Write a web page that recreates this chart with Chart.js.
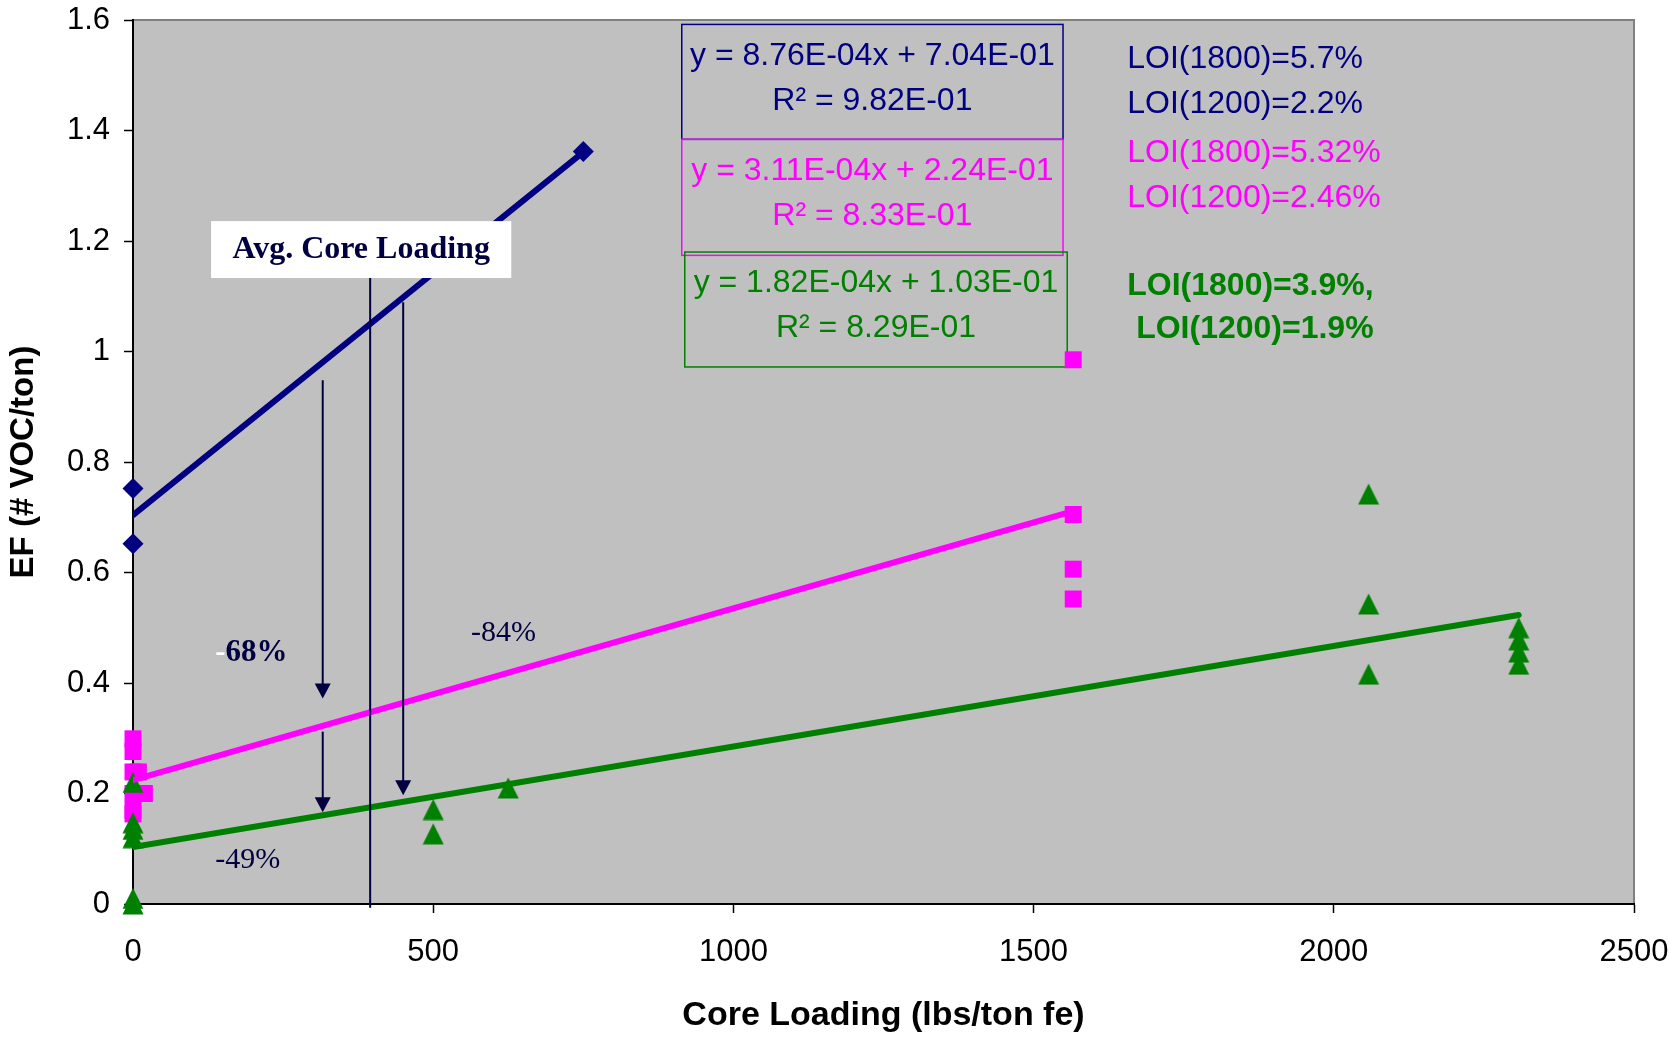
<!DOCTYPE html>
<html lang="en">
<head>
<meta charset="UTF-8">
<title>EF vs Core Loading</title>
<style>
    html, body { margin: 0; padding: 0; background: #fff; }
    .container { width: 1669px; height: 1037px; position: relative; }
</style>
</head>
<body>
<div class="container"><canvas id="efChart"></canvas></div>
<script src="https://cdn.jsdelivr.net/npm/chart.js"></script>
<script>
// values
const xTicks = [0, 500, 1000, 1500, 2000, 2500];
const yTicks = [0, 0.2, 0.4, 0.6, 0.8, 1, 1.2, 1.4, 1.6];

const blueX = [0, 0, 750];
const blueY = [0.752, 0.652, 1.362];

const pinkX = [0, 0, 0, 9, 0, 19, 0, 0, 1566, 1566, 1566, 1566];
const pinkY = [0.299, 0.276, 0.239, 0.239, 0.2, 0.2, 0.17, 0.163, 0.985, 0.705, 0.606, 0.552];

const greenX = [0, 0, 0, 0, 0, 0, 500, 500, 625, 2058, 2058, 2058, 2308, 2308, 2308, 2308];
const greenY = [0.22, 0.147, 0.135, 0.12, 0.01, 0.0, 0.171, 0.127, 0.21, 0.742, 0.543, 0.416, 0.5, 0.478, 0.456, 0.434];

// trendline end points
const blueTrendX = [0, 750],   blueTrendY = [0.704, 1.361];
const pinkTrendX = [0, 1566],  pinkTrendY = [0.224, 0.711];
const greenTrendX = [0, 2308], greenTrendY = [0.103, 0.523];

const eqText = [
    ['y = 8.76E-04x + 7.04E-01', 'R² = 9.82E-01'],
    ['y = 3.11E-04x + 2.24E-01', 'R² = 8.33E-01'],
    ['y = 1.82E-04x + 1.03E-01', 'R² = 8.29E-01']
];
const loiText = [
    ['LOI(1800)=5.7%', 'LOI(1200)=2.2%'],
    ['LOI(1800)=5.32%', 'LOI(1200)=2.46%'],
    ['LOI(1800)=3.9%,', ' LOI(1200)=1.9%']
];

const NAVY = '#000080', PINK = '#ff00ff', GREEN = '#008000', INK = '#000040';

const toPts = (xs, ys) => xs.map((x, i) => ({x: x, y: ys[i]}));

// excel-like triangle marker
const tri = document.createElement('canvas');
tri.width = 22; tri.height = 22;
(function() {
    const c = tri.getContext('2d');
    c.fillStyle = GREEN;
    c.beginPath();
    c.moveTo(11, 0.5); c.lineTo(21.5, 21.5); c.lineTo(0.5, 21.5);
    c.closePath(); c.fill();
})();

function arrow(ctx, x, y1, y2) {
    ctx.beginPath();
    ctx.moveTo(x, y1); ctx.lineTo(x, y2 - 12);
    ctx.stroke();
    ctx.beginPath();
    ctx.moveTo(x - 8, y2 - 15); ctx.lineTo(x + 8, y2 - 15); ctx.lineTo(x, y2);
    ctx.closePath(); ctx.fill();
}

const plotFrame = {
    id: 'plotFrame',
    beforeDraw(chart) {
        const {ctx, chartArea: a} = chart;
        ctx.save();
        ctx.fillStyle = '#c0c0c0';
        ctx.fillRect(a.left, a.top, a.right - a.left, a.bottom - a.top);
        ctx.strokeStyle = '#808080';
        ctx.lineWidth = 2;
        ctx.strokeRect(a.left, a.top, a.right - a.left, a.bottom - a.top);
        ctx.restore();
    },
    beforeDatasetsDraw(chart) {
        const ctx = chart.ctx;
        const px = v => chart.scales.x.getPixelForValue(v);
        const py = v => chart.scales.y.getPixelForValue(v);
        // equation boxes
        const boxes = [
            {x1: 914, x2: 1549, y1: 1.592, y2: 1.384, c: NAVY, ty: [1.534, 1.453]},
            {x1: 914, x2: 1549, y1: 1.384, y2: 1.174, c: PINK, ty: [1.326, 1.245]},
            {x1: 919, x2: 1556, y1: 1.180, y2: 0.972, c: GREEN, ty: [1.124, 1.042]}
        ];
        ctx.save();
        ctx.font = '32px "Liberation Sans", Arial, sans-serif';
        ctx.textAlign = 'center';
        ctx.textBaseline = 'middle';
        boxes.forEach((b, i) => {
            ctx.strokeStyle = b.c;
            ctx.lineWidth = 1.5;
            ctx.strokeRect(px(b.x1), py(b.y1), px(b.x2) - px(b.x1), py(b.y2) - py(b.y1));
            ctx.fillStyle = b.c;
            const cx = (px(b.x1) + px(b.x2)) / 2;
            ctx.fillText(eqText[i][0], cx, py(b.ty[0]));
            ctx.fillText(eqText[i][1], cx, py(b.ty[1]));
        });
        // LOI notes
        ctx.textAlign = 'left';
        const loiY = [[1.530, 1.447], [1.359, 1.277], [1.118, 1.041]];
        const loiC = [NAVY, PINK, GREEN];
        loiText.forEach((pair, i) => {
            ctx.fillStyle = loiC[i];
            ctx.font = (i === 2 ? 'bold ' : '') + '32px "Liberation Sans", Arial, sans-serif';
            ctx.fillText(pair[0], px(1656), py(loiY[i][0]));
            ctx.fillText(pair[1], px(1656), py(loiY[i][1]));
        });
        ctx.restore();
    },
    afterDatasetsDraw(chart) {
        const ctx = chart.ctx;
        const px = v => chart.scales.x.getPixelForValue(v);
        const py = v => chart.scales.y.getPixelForValue(v);
        ctx.save();
        ctx.strokeStyle = INK;
        ctx.fillStyle = INK;
        ctx.lineWidth = 2;
        // average core loading line
        ctx.beginPath();
        ctx.moveTo(px(395), py(1.133)); ctx.lineTo(px(395), py(-0.007));
        ctx.stroke();
        arrow(ctx, px(316), py(0.948), py(0.372));
        arrow(ctx, px(316), py(0.312), py(0.166));
        arrow(ctx, px(450), py(1.089), py(0.197));
        // label box
        ctx.fillStyle = '#fff';
        ctx.fillRect(px(130), py(1.236), px(630) - px(130), py(1.133) - py(1.236));
        ctx.fillStyle = INK;
        ctx.font = 'bold 32px "Liberation Serif", "Times New Roman", serif';
        ctx.textAlign = 'center';
        ctx.textBaseline = 'middle';
        ctx.fillText('Avg. Core Loading', px(380), py(1.185));
        // percent notes
        ctx.textAlign = 'left';
        ctx.font = 'bold 31px "Liberation Serif", "Times New Roman", serif';
        ctx.fillStyle = '#fff';
        ctx.fillText('-', px(137), py(0.455));
        const dash = ctx.measureText('-').width;
        ctx.fillStyle = INK;
        ctx.fillText('68%', px(137) + dash, py(0.455));
        ctx.font = '30px "Liberation Serif", "Times New Roman", serif';
        ctx.fillText('-84%', px(563), py(0.49));
        ctx.fillText('-49%', px(137), py(0.08));
        ctx.restore();
    },
    afterDraw(chart) {
        const {ctx, chartArea: a} = chart;
        ctx.save();
        ctx.fillStyle = '#000';
        ctx.textAlign = 'center';
        ctx.textBaseline = 'middle';
        ctx.font = 'bold 34px "Liberation Sans", Arial, sans-serif';
        ctx.fillText('Core Loading (lbs/ton fe)', (a.left + a.right) / 2, 1016);
        ctx.font = 'bold 33px "Liberation Sans", Arial, sans-serif';
        ctx.translate(24, (a.top + a.bottom) / 2);
        ctx.rotate(-Math.PI / 2);
        ctx.fillText('EF (# VOC/ton)', 0, 0);
        ctx.restore();
    }
};

const tickFont = {family: '"Liberation Sans", Arial, sans-serif', size: 31};

new Chart(document.getElementById('efChart'), {
    type: 'scatter',
    data: {
        datasets: [
            {data: toPts(blueTrendX, blueTrendY), showLine: true, borderColor: NAVY, borderWidth: 6,
             borderCapStyle: 'round', pointRadius: 0, order: 1},
            {data: toPts(pinkTrendX, pinkTrendY), showLine: true, borderColor: PINK, borderWidth: 6,
             borderCapStyle: 'round', pointRadius: 0, order: 2},
            {data: toPts(greenTrendX, greenTrendY), showLine: true, borderColor: GREEN, borderWidth: 6,
             borderCapStyle: 'round', pointRadius: 0, order: 3},
            {data: toPts(greenX, greenY), pointStyle: tri, pointRadius: 11, clip: false, order: 4},
            {data: toPts(pinkX, pinkY), pointStyle: 'rect', pointRadius: 12, backgroundColor: PINK,
             borderWidth: 0, clip: false, order: 5},
            {data: toPts(blueX, blueY), pointStyle: 'rectRot', pointRadius: 10.5, backgroundColor: NAVY,
             borderWidth: 0, clip: false, order: 6}
        ]
    },
    options: {
        responsive: true,
        maintainAspectRatio: false,
        animation: false,
        layout: {padding: {top: 20, right: 35, left: 0, bottom: 0}},
        plugins: {legend: {display: false}, tooltip: {enabled: false}},
        scales: {
            x: {
                type: 'linear', min: 0, max: 2500,
                afterBuildTicks: s => { s.ticks = xTicks.map(v => ({value: v})); },
                afterFit: s => { s.height = 133; s.paddingLeft = 0; s.paddingRight = 0; },
                ticks: {font: tickFont, color: '#000', padding: 21, maxRotation: 0,
                        callback: v => String(v)},
                grid: {drawOnChartArea: false, drawTicks: true, tickLength: 9, tickColor: '#000', tickWidth: 1.5},
                border: {color: '#000', width: 2}
            },
            y: {
                type: 'linear', min: 0, max: 1.6,
                afterBuildTicks: s => { s.ticks = yTicks.map(v => ({value: v})); },
                afterFit: s => { s.width = 133; s.paddingTop = 0; s.paddingBottom = 0; },
                ticks: {font: tickFont, color: '#000', padding: 14,
                        callback: v => String(+v.toFixed(1))},
                grid: {drawOnChartArea: false, drawTicks: true, tickLength: 9, tickColor: '#000', tickWidth: 1.5},
                border: {color: '#000', width: 2}
            }
        }
    },
    plugins: [plotFrame]
});
</script>
</body>
</html>
